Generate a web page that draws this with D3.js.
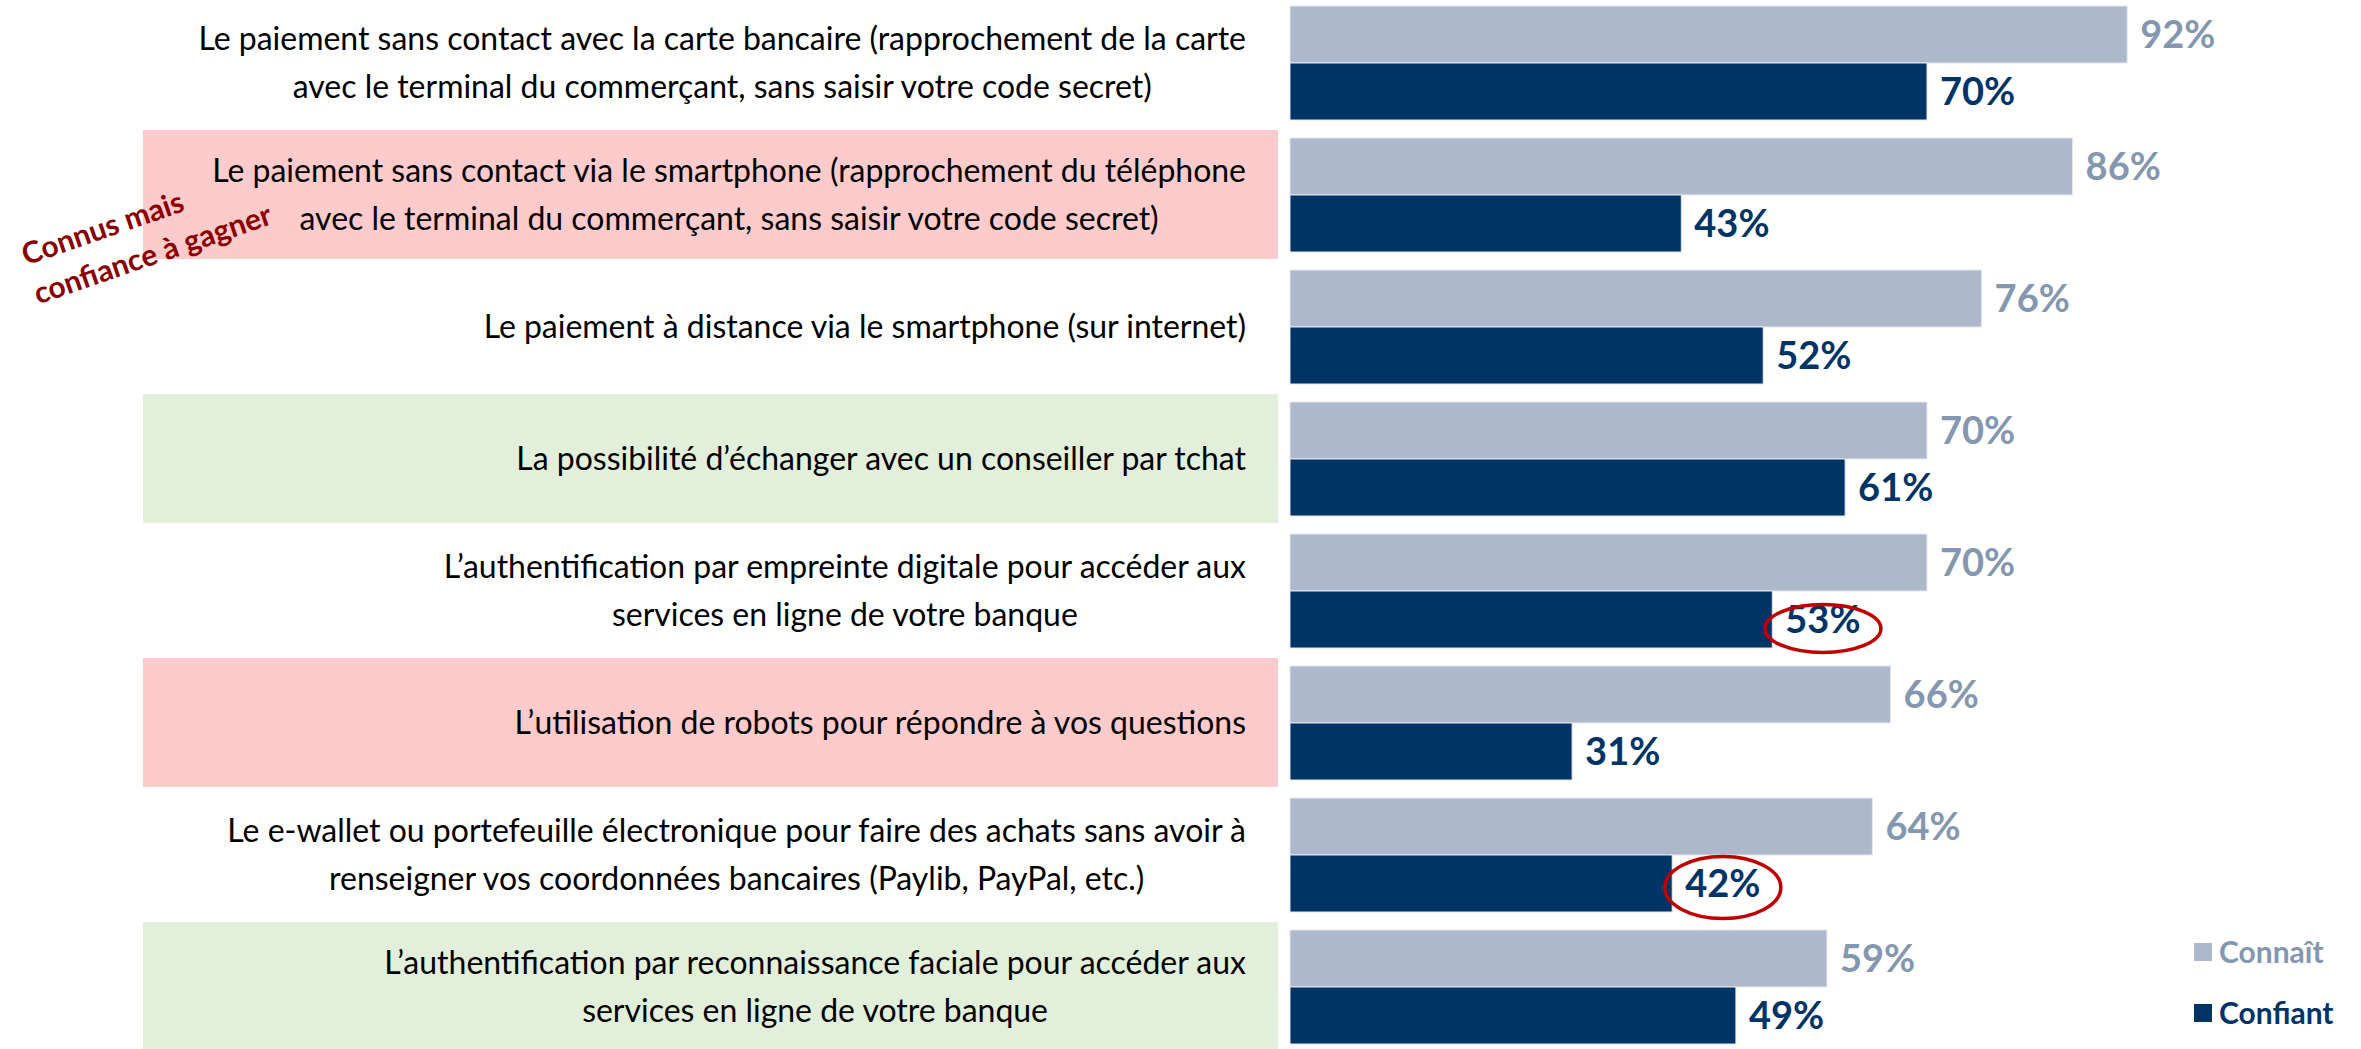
<!DOCTYPE html>
<html><head><meta charset="utf-8">
<script src="https://cdn.jsdelivr.net/npm/d3@7"></script>
<style>html,body{margin:0;padding:0;background:#fff;overflow:hidden}</style>
</head><body>
<svg id="chart" width="2361" height="1049"></svg>
<script>
const categories = [
  "Le paiement sans contact avec la carte bancaire (rapprochement de la carte|avec le terminal du commerçant, sans saisir votre code secret)",
  "Le paiement sans contact via le smartphone (rapprochement du téléphone|avec le terminal du commerçant, sans saisir votre code secret)",
  "Le paiement à distance via le smartphone (sur internet)",
  "La possibilité d’échanger avec un conseiller par tchat",
  "L’authentification par empreinte digitale pour accéder aux|services en ligne de votre banque",
  "L’utilisation de robots pour répondre à vos questions",
  "Le e-wallet ou portefeuille électronique pour faire des achats sans avoir à|renseigner vos coordonnées bancaires (Paylib, PayPal, etc.)",
  "L’authentification par reconnaissance faciale pour accéder aux|services en ligne de votre banque"
];
const connait  = [92, 86, 76, 70, 70, 66, 64, 59];
const confiant = [70, 43, 52, 61, 53, 31, 42, 49];
const rowHighlight = ["", "pink", "", "green", "", "pink", "", "green"];
const seriesNames = ["Connaît", "Confiant"];
const circled = [{row: 4, series: "Confiant"}, {row: 6, series: "Confiant"}];
const annotationLines = ["Connus mais", "confiance à gagner"];

const barColors = {"Connaît": "#ADB9CA", "Confiant": "#003366"};
const labelColors = {"Connaît": "#8497B0", "Confiant": "#003366"};
const hlColors = {pink: "#FDCBCB", green: "#E2EFDA"};

const svg = d3.select("#chart");
const rows = categories.map((c, i) => ({i, cat: c, lines: c.split("|"), "Connaît": connait[i], "Confiant": confiant[i], hl: rowHighlight[i]}));

const y = d3.scaleBand().domain(d3.range(categories.length)).range([6, 1044]).paddingInner(18/132).paddingOuter(0);
const ySub = d3.scaleBand().domain(seriesNames).range([0, y.bandwidth()]).padding(0);
const x = d3.scaleLinear().domain([0, 100]).range([1290, 2200]);

// highlight boxes
svg.append("g").selectAll("rect").data(rows.filter(d => d.hl)).join("rect")
  .attr("x", 143).attr("width", 1278 - 143)
  .attr("y", d => y(d.i) - 8).attr("height", y.bandwidth() + 15)
  .attr("fill", d => hlColors[d.hl]);

// category labels
const catFont = "Lato, 'Open Sans', sans-serif";
const probe = svg.append("text").attr("font-family", catFont).attr("font-size", 30).text(rows[0].lines[0]);
const w30 = probe.node().getComputedTextLength();
probe.remove();
const catSize = 30 * 1048 / w30;
const rightEdge = 1246;
const lineGap = 48;

const catG = svg.append("g").selectAll("g").data(rows).join("g");
catG.each(function(d) {
  const g = d3.select(this);
  const cy = y(d.i) + y.bandwidth() / 2;
  const n = d.lines.length;
  const texts = g.selectAll("text").data(d.lines).join("text")
    .attr("font-family", catFont).attr("font-size", catSize).attr("fill", "#000")
    .attr("text-anchor", "middle").attr("dy", "0.35em")
    .attr("y", (l, k) => cy + (k - (n - 1) / 2) * lineGap)
    .text(l => l);
  let maxW = 0;
  texts.each(function() { maxW = Math.max(maxW, this.getComputedTextLength()); });
  texts.attr("x", rightEdge - maxW / 2);
});

// bars
const groups = svg.append("g").selectAll("g").data(rows).join("g")
  .attr("transform", d => `translate(0,${y(d.i)})`);
groups.selectAll("rect").data(d => seriesNames.map(s => ({s, v: d[s], row: d.i}))).join("rect")
  .attr("x", x(0)).attr("y", d => ySub(d.s)).attr("height", ySub.bandwidth())
  .attr("width", d => x(d.v) - x(0))
  .attr("fill", d => barColors[d.s])
  .attr("stroke", "#E4E9F0").attr("stroke-width", 1);

// value labels
const valFont = "Lato, 'Open Sans', sans-serif";
const labels = groups.selectAll("text").data(d => seriesNames.map(s => ({s, v: d[s], row: d.i}))).join("text")
  .attr("x", d => x(d.v) + 13).attr("y", d => ySub(d.s) + ySub.bandwidth() / 2)
  .attr("dy", "0.36em")
  .attr("font-family", valFont).attr("font-weight", 700).attr("font-size", 38)
  .attr("fill", d => labelColors[d.s])
  .text(d => d.v + "%");

// circled labels
const circG = svg.append("g");
circled.forEach((c, k) => {
  const v = c.series === "Confiant" ? confiant[c.row] : connait[c.row];
  const node = labels.filter(d => d.row === c.row && d.s === c.series).node();
  const w = node.getComputedTextLength();
  const cx = x(v) + 13 + w / 2;
  const cy = y(c.row) + ySub(c.series) + ySub.bandwidth() / 2;
  circG.append("ellipse")
    .attr("cx", cx).attr("cy", cy + (k === 0 ? 9 : 4))
    .attr("rx", 58).attr("ry", k === 0 ? 24 : 31)
    .attr("fill", "none").attr("stroke", "#C00000").attr("stroke-width", 3.5);
});

// annotation
const annPos = [[106, 238], [156, 264]];
svg.append("g").selectAll("text").data(annotationLines).join("text")
  .attr("transform", (t, k) => `translate(${annPos[k][0]},${annPos[k][1]}) rotate(-19)`)
  .attr("text-anchor", "middle")
  .attr("font-family", valFont).attr("font-weight", 700).attr("font-size", 30)
  .attr("fill", "#8B0000")
  .text(t => t);

// legend
const legend = svg.append("g").selectAll("g").data(seriesNames).join("g")
  .attr("transform", (s, k) => `translate(2194,${952 + k * 61})`);
legend.append("rect").attr("x", 0).attr("y", -9).attr("width", 18).attr("height", 18)
  .attr("fill", s => barColors[s]);
legend.append("text").attr("x", 25).attr("dy", "0.36em")
  .attr("font-family", valFont).attr("font-weight", 700).attr("font-size", 30)
  .attr("fill", s => labelColors[s]).text(s => s);
</script>
</body></html>
